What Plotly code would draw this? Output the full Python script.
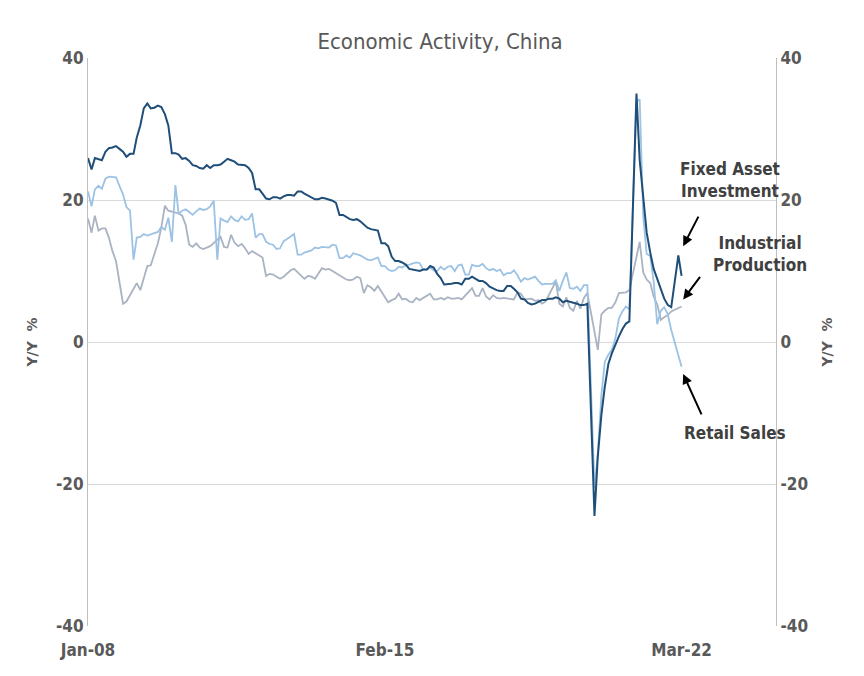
import plotly.graph_objects as go
import pandas as pd

dates = pd.date_range("2008-01-01", "2022-03-01", freq="MS")

fai = [25.9,24.3,25.9,25.7,25.6,26.8,27.3,27.4,27.6,27.2,26.8,26.1,
       26.5,26.5,28.8,30.5,32.9,33.6,32.9,33.0,33.3,33.1,32.1,30.5,
       26.6,26.6,26.4,25.8,25.9,25.5,24.9,24.8,24.5,24.4,24.9,24.5,
       24.9,24.9,25.0,25.4,25.8,25.6,25.4,25.0,24.9,24.9,24.5,23.8,
       21.5,21.5,20.9,20.2,20.1,20.4,20.4,20.2,20.5,20.7,20.7,20.6,
       21.2,21.2,20.9,20.6,20.4,20.1,20.1,20.3,20.2,20.1,19.9,19.6,
       17.9,17.9,17.6,17.3,17.2,17.3,17.0,16.5,16.1,15.9,15.8,15.7,
       13.9,13.9,13.5,12.0,11.4,11.4,11.2,10.9,10.3,10.2,10.2,10.0,
       10.2,10.2,10.7,10.5,9.6,9.0,8.1,8.1,8.2,8.3,8.3,8.1,
       8.9,8.9,9.2,8.9,8.6,8.6,8.3,7.8,7.5,7.3,7.2,7.2,
       7.9,7.9,7.5,7.0,6.1,6.0,5.5,5.3,5.4,5.7,5.9,5.9,
       6.1,6.1,6.3,6.1,5.6,5.8,5.7,5.5,5.4,5.2,5.2,5.4,
       None,-24.5,-16.1,-10.3,-6.3,-3.1,-1.6,-0.3,0.8,1.8,2.6,2.9,
       None,35.0,25.6,19.9,15.4,12.6,10.3,8.9,7.3,6.1,5.2,4.9,
       None,12.2,9.3]

retail = [21.2,19.1,21.5,22.0,21.6,23.0,23.3,23.2,23.2,22.0,20.8,19.0,
          18.5,11.6,14.7,14.8,15.2,15.0,15.2,15.4,15.5,16.2,15.8,17.5,
          14.1,22.1,18.0,18.5,18.7,18.3,17.9,18.4,18.8,18.6,18.7,19.1,
          19.9,11.6,17.4,17.1,16.9,17.7,17.2,17.0,17.7,17.2,17.3,18.1,
          14.7,15.2,15.2,14.1,13.8,13.7,13.1,13.2,14.2,14.5,14.9,15.2,
          12.3,12.3,12.6,12.8,12.9,13.3,13.2,13.4,13.3,13.3,13.7,13.6,
          11.8,11.8,12.2,11.9,12.5,12.4,12.2,11.9,11.6,11.5,11.7,11.9,
          10.7,10.7,10.2,10.0,10.1,10.6,10.5,10.8,10.9,11.0,11.2,11.1,
          10.2,10.2,10.5,10.1,10.0,10.6,10.2,10.6,10.7,10.0,10.8,10.9,
          9.5,9.5,10.9,10.7,10.7,11.0,10.4,10.1,10.3,10.0,10.2,9.4,
          9.7,9.7,10.1,9.4,8.5,9.0,8.8,9.0,9.2,8.6,8.1,8.2,
          8.2,8.2,8.7,7.2,8.6,9.8,7.6,7.5,7.8,7.2,8.0,8.0,
          None,-20.5,-15.8,-7.5,-2.8,-1.8,-1.1,0.5,3.3,4.3,5.0,4.6,
          None,33.8,34.2,17.7,12.4,12.1,8.5,2.5,4.4,4.9,3.9,1.7,
          None,None,-3.5]

ip = [17.4,15.4,17.8,15.7,16.0,16.0,14.7,12.8,11.4,8.2,5.4,5.7,
      None,None,8.3,7.3,8.9,10.7,10.8,12.3,13.9,16.1,19.2,18.5,
      None,None,18.1,17.8,16.5,13.7,13.4,13.9,13.3,13.1,13.3,13.5,
      None,None,14.8,13.4,13.3,15.1,14.0,13.5,13.8,13.2,12.4,12.8,
      None,None,11.9,9.3,9.6,9.5,9.2,8.9,9.2,9.6,10.1,10.3,
      None,None,8.9,9.3,9.2,8.9,9.7,10.4,10.2,10.3,10.0,9.7,
      None,None,8.8,8.7,8.8,9.2,9.0,6.9,8.0,7.7,7.2,7.9,
      None,None,5.6,5.9,6.1,6.8,6.0,6.1,5.7,5.6,6.2,5.9,
      None,None,6.8,6.0,6.0,6.2,6.0,6.3,6.1,6.1,6.2,6.0,
      None,None,7.6,6.5,6.5,7.6,6.4,6.0,6.6,6.2,6.1,6.2,
      None,None,6.0,7.0,6.8,6.0,6.0,6.1,5.8,5.9,5.4,5.7,
      None,None,8.5,5.4,5.0,6.3,4.8,4.4,5.8,4.7,6.2,6.9,
      None,None,-1.1,3.9,4.4,4.8,4.8,5.6,6.9,6.9,7.0,7.3,
      None,None,14.1,9.8,8.8,8.3,6.4,5.3,3.1,3.5,3.8,4.3,
      None,None,5.0]

tick_vals = ["2008-01-01", "2015-02-01", "2022-03-01"]
tick_text = ["<b>Jan-08</b>", "<b>Feb-15</b>", "<b>Mar-22</b>"]
y_vals = [-40, -20, 0, 20, 40]
y_text = ["<b>-40</b>", "<b>-20</b>", "<b>0</b>", "<b>20</b>", "<b>40</b>"]

fig = go.Figure()
fig.add_trace(go.Scatter(x=dates, y=ip, mode="lines", connectgaps=True,
                         line=dict(color="#aab3c2", width=1.8), name="Industrial Production"))
fig.add_trace(go.Scatter(x=dates, y=retail, mode="lines", connectgaps=True,
                         line=dict(color="#9cc2e4", width=1.8), name="Retail Sales"))
fig.add_trace(go.Scatter(x=dates, y=fai, mode="lines", connectgaps=True,
                         line=dict(color="#1f4e79", width=2), name="Fixed Asset Investment"))
fig.add_trace(go.Scatter(x=[dates[0]], y=[None], yaxis="y2", showlegend=False, hoverinfo="skip"))

tickfont = dict(family="DejaVu Sans Condensed", size=17, color="#595959")
ytitle = dict(text="<b>Y/Y  %</b>", font=dict(family="DejaVu Sans", size=14, color="#595959"))
fig.update_layout(
    width=864, height=676, showlegend=False,
    paper_bgcolor="white", plot_bgcolor="white",
    margin=dict(l=80, r=96, t=50, b=58, autoexpand=False),
    title=dict(text="Economic Activity, China", x=0.5, xanchor="center", y=0.962,
               font=dict(family="DejaVu Sans Condensed", size=22, color="#595959")),
    xaxis=dict(type="date", range=["2008-01-01", "2024-06-01"], tickvals=tick_vals,
               ticktext=tick_text, showgrid=False, showline=False, zeroline=False,
               tickfont=tickfont, ticks="", automargin=False, ticklabelstandoff=12),
    yaxis=dict(range=[-40, 40], tickvals=y_vals, ticktext=y_text, showgrid=True,
               gridcolor="#d9d9d9", zeroline=False, showline=True, linecolor="#bfbfbf",
               tickfont=tickfont, automargin=False, title=ytitle),
    yaxis2=dict(range=[-40, 40], tickvals=y_vals, ticktext=y_text, overlaying="y",
                side="right", showgrid=False, zeroline=False, showline=True,
                linecolor="#bfbfbf", tickfont=tickfont, automargin=False, title=ytitle),
)

lab = dict(family="DejaVu Sans Condensed", size=17, color="#404040")
def px(xp, yp):
    return (xp - 80) / 688, (618 - yp) / 568

for txt, (xp, yp) in [("<b>Fixed Asset<br>Investment</b>", (722, 172)),
                      ("<b>Industrial<br>Production</b>", (752, 246)),
                      ("<b>Retail Sales</b>", (727, 425))]:
    x, y = px(xp, yp)
    fig.add_annotation(x=x, y=y, xref="paper", yref="paper", text=txt, showarrow=False,
                       xanchor="center", yanchor="middle", font=lab, align="center")

for yv, ax, ay in [(13.5, 16, -31), (6.0, 18, -24), (-4.5, 19, 42)]:
    fig.add_annotation(x="2022-03-15", y=yv, text="", showarrow=True, arrowhead=2,
                       arrowsize=1, arrowwidth=2, arrowcolor="black", ax=ax, ay=ay)

fig.write_html("out.html")
